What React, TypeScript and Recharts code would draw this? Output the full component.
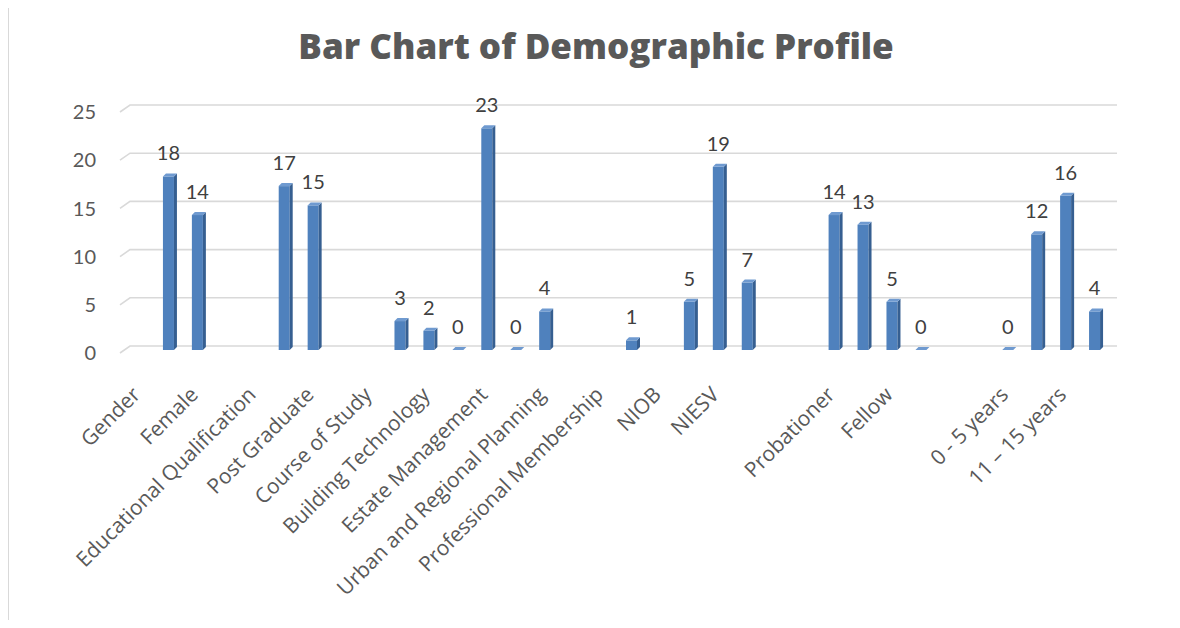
import { BarChart, Bar, XAxis, YAxis, CartesianGrid, LabelList } from "recharts";

// category rows as they sit in the sheet, headings and blank spacer rows included
const categories = [
  "Gender",
  "Male",
  "Female",
  "",
  "Educational Qualification",
  "Graduate",
  "Post Graduate",
  "",
  "Course of Study",
  "Architecture",
  "Building Technology",
  "Quantity Surveying",
  "Estate Management",
  "Surveying",
  "Urban and Regional Planning",
  "",
  "Professional Membership",
  "NIA",
  "NIOB",
  "NIQS",
  "NIESV",
  "NITP",
  "",
  "Membership Grade",
  "Probationer",
  "Associate",
  "Fellow",
  "Others",
  "",
  "Years of Experience",
  "0 - 5 years",
  "6 – 10 years",
  "11 – 15 years",
  "Above 15 years",
];

const counts: (number | null)[] = [
  null, 18, 14, null, null, 17, 15, null, null, 3, 2, 0, 23, 0, 4, null, null,
  1, null, 5, 19, 7, null, null, 14, 13, 5, 0, null, null, 0, 12, 16, 4,
];

const yTicks = [0, 5, 10, 15, 20, 25];

const data = categories.map((name, i) => ({ name, count: counts[i] }));

const FONT = "Lato, 'Open Sans', sans-serif";
const LABEL_FONT = "'Open Sans', Lato, sans-serif";
const DEPTH = 3;

function Column3D(props: any) {
  const { x, y, width, height, payload } = props;
  if (payload == null || payload.count == null) return <g />;
  const d = DEPTH;
  return (
    <g>
      <rect x={x} y={y} width={width} height={Math.max(height, 0)} fill="#4F81BD" />
      <polygon
        points={`${x + width},${y} ${x + width + d},${y - d} ${x + width + d},${y + height - d} ${x + width},${y + height}`}
        fill="#365F91"
      />
      <polygon
        points={`${x},${y} ${x + d},${y - d} ${x + width + d},${y - d} ${x + width},${y}`}
        fill="#6F9AD0"
      />
    </g>
  );
}

function GridLine(props: any) {
  const { x1, x2, y1 } = props;
  return (
    <path
      key={props.key ?? `g-${y1}`}
      d={`M${x1 - 5},${y1 + 3} L${x1 + 5},${y1 - 4} L${x2 + 8},${y1 - 4}`}
      fill="none"
      stroke="#D9D9D9"
      strokeWidth={1.6}
    />
  );
}

function CategoryTick(props: any) {
  const { x, y, payload } = props;
  if (!payload || !payload.value) return <g />;
  const px = x + 2;
  const py = y + 46;
  return (
    <text
      x={px}
      y={py}
      transform={`rotate(-45, ${px}, ${py})`}
      textAnchor="end"
      fontFamily={LABEL_FONT}
      fontSize={21}
      fill="#595959"
    >
      {payload.value}
    </text>
  );
}

function ValueTick(props: any) {
  const { x, y, payload } = props;
  return (
    <text
      x={x}
      y={y + 3}
      dy="0.36em"
      textAnchor="end"
      fontFamily={FONT}
      fontSize={20}
      fill="#595959"
    >
      {payload.value}
    </text>
  );
}

function ValueLabel(props: any) {
  const { x, y, width, value } = props;
  if (value == null) return null;
  return (
    <text
      x={x + width / 2}
      y={y - 16}
      textAnchor="middle"
      fontFamily={FONT}
      fontSize={20}
      fill="#404040"
    >
      {value}
    </text>
  );
}

export default function App() {
  return (
    <div
      style={{
        position: "relative",
        width: 1180,
        height: 628,
        margin: -8,
        overflow: "hidden",
        background: "#fff",
      }}
    >
      <div
        style={{
          position: "absolute",
          left: 7,
          top: 6,
          width: 1200,
          height: 640,
          borderLeft: "2px solid #D9D9D9",
          borderTop: "2px solid #D9D9D9",
        }}
      />
      <div
        style={{
          position: "absolute",
          top: 28,
          left: 0,
          width: 1192,
          textAlign: "center",
          fontFamily: LABEL_FONT,
          fontWeight: 800,
          fontSize: 35,
          lineHeight: "35px",
          color: "#595959",
        }}
      >
        Bar Chart of Demographic Profile
      </div>
      <div style={{ position: "absolute", left: 0, top: 0 }}>
        <BarChart
          width={1180}
          height={628}
          data={data}
          margin={{ top: 109, right: 71, bottom: 238, left: 95 }}
        >
          <CartesianGrid vertical={false} horizontal={GridLine} />
          <XAxis
            dataKey="name"
            interval={1}
            axisLine={false}
            tickLine={false}
            tickSize={0}
            tickMargin={0}
            height={40}
            tick={CategoryTick}
          />
          <YAxis
            domain={[0, 25]}
            ticks={yTicks}
            axisLine={false}
            tickLine={false}
            tickSize={0}
            tickMargin={29}
            width={30}
            tick={ValueTick}
          />
          <Bar dataKey="count" barSize={11} shape={Column3D} isAnimationActive={false}>
            <LabelList dataKey="count" content={ValueLabel} />
          </Bar>
        </BarChart>
      </div>
    </div>
  );
}
